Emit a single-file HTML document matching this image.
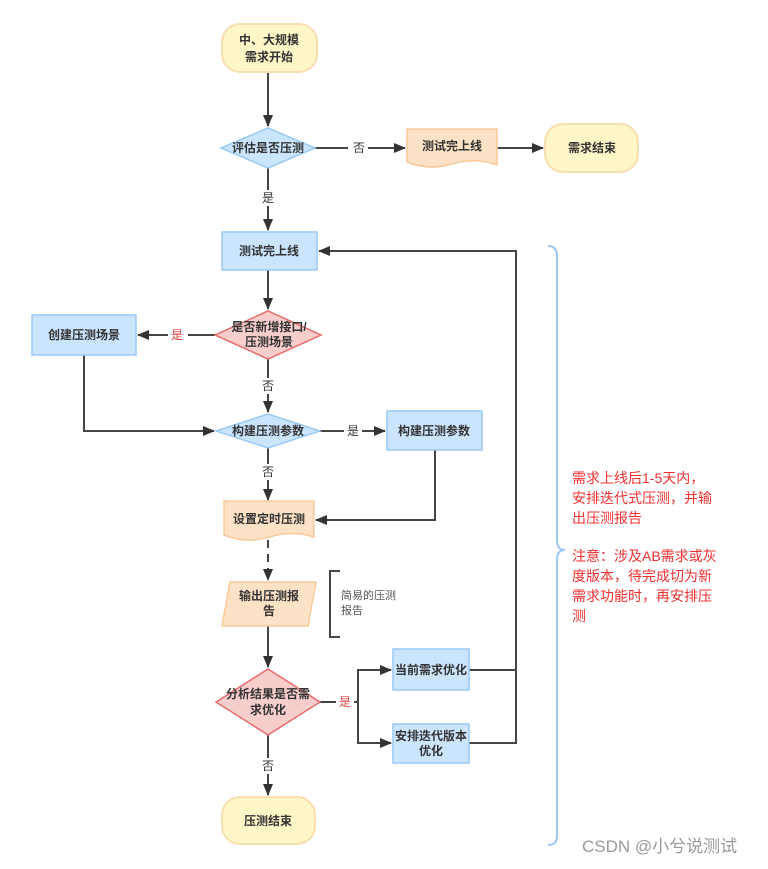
<!DOCTYPE html>
<html><head><meta charset="utf-8"><style>
body{margin:0;background:#fff;width:768px;height:864px;overflow:hidden}
text{font-family:"Liberation Sans","Noto Sans CJK SC",sans-serif}
.b{font-size:12px;font-weight:bold;fill:#333;text-anchor:middle}
.l{font-size:12px;fill:#333;text-anchor:middle}
</style></head><body>
<svg width="768" height="864" xmlns="http://www.w3.org/2000/svg">
<defs><marker id="a" markerWidth="12" markerHeight="10" refX="11" refY="5" orient="auto" markerUnits="userSpaceOnUse"><path d="M0,0L12,5L0,10Z" fill="#333"/></marker></defs>
<g stroke="#444" stroke-width="2" fill="none">
<path d="M268 72V126" marker-end="url(#a)"/>
<path d="M315 148H405" marker-end="url(#a)"/>
<path d="M497 148H543" marker-end="url(#a)"/>
<path d="M268 168V230" marker-end="url(#a)"/>
<path d="M268 270V309" marker-end="url(#a)"/>
<path d="M215 335H138" marker-end="url(#a)"/>
<path d="M268 359V412" marker-end="url(#a)"/>
<path d="M84 355V431H214" marker-end="url(#a)"/>
<path d="M320 431H385" marker-end="url(#a)"/>
<path d="M268 448V500" marker-end="url(#a)"/>
<path d="M435 450V520H316" marker-end="url(#a)"/>
<path d="M268 540V580" stroke-dasharray="8,6" marker-end="url(#a)"/>
<path d="M268 626V667" marker-end="url(#a)"/>
<path d="M320 702H358V670H391" marker-end="url(#a)"/>
<path d="M358 702V743H391" marker-end="url(#a)"/>
<path d="M268 735V795" marker-end="url(#a)"/>
<path d="M469 670H516V251H319" marker-end="url(#a)"/>
<path d="M469 743H516V670"/>
<path d="M340 571H330V637H340"/>
</g>
<path d="M548 246Q557 246 557 256V540Q557 550 565 550Q557 550 557 560V836Q557 845 548 845" stroke="#9cc8f5" stroke-width="2" fill="none"/>
<rect x="222" y="24" width="95" height="48" rx="18" fill="#fff6c7" stroke="#f9dfb0" stroke-width="2"/>
<text class="b" x="269" y="44">中、大规模</text><text class="b" x="269" y="61">需求开始</text>
<path d="M221 148L268 128L315 148L268 168Z" fill="#cce5ff" stroke="#99c9f5" stroke-width="1.5"/>
<text class="b" x="268" y="152">评估是否压测</text>
<rect x="348" y="140" width="20" height="16" fill="#fff"/><text class="l" x="359" y="152">否</text>
<path d="M407 129H497V165Q475 157 452 164T407 162Z" fill="#fde2c6" stroke="#f8c99a" stroke-width="1.5"/>
<text class="b" x="452" y="150">测试完上线</text>
<rect x="545" y="124" width="93" height="48" rx="18" fill="#fff6c7" stroke="#f9dfb0" stroke-width="2"/>
<text class="b" x="592" y="152">需求结束</text>
<rect x="259" y="190" width="18" height="16" fill="#fff"/><text class="l" x="268" y="202">是</text>
<rect x="222" y="232" width="95" height="38" fill="#cce5ff" stroke="#99c9f5" stroke-width="1.5"/>
<text class="b" x="269" y="255">测试完上线</text>
<path d="M215 335L268 311L321 335L268 359Z" fill="#f8cecc" stroke="#e86a6a" stroke-width="1.5"/>
<text class="b" x="269" y="331">是否新增接口/</text><text class="b" x="269" y="346">压测场景</text>
<rect x="168" y="327" width="20" height="16" fill="#fff"/><text x="177" y="339" font-size="12" fill="#e04040" text-anchor="middle">是</text>
<rect x="32" y="315" width="104" height="40" fill="#cce5ff" stroke="#99c9f5" stroke-width="1.5"/>
<text class="b" x="84" y="339">创建压测场景</text>
<rect x="259" y="378" width="18" height="16" fill="#fff"/><text class="l" x="268" y="390">否</text>
<path d="M216 431L268 414L320 431L268 448Z" fill="#cce5ff" stroke="#99c9f5" stroke-width="1.5"/>
<text class="b" x="268" y="435">构建压测参数</text>
<rect x="344" y="423" width="18" height="16" fill="#fff"/><text class="l" x="353" y="435">是</text>
<rect x="387" y="411" width="95" height="39" fill="#cce5ff" stroke="#99c9f5" stroke-width="1.5"/>
<text class="b" x="434" y="435">构建压测参数</text>
<rect x="259" y="464" width="18" height="16" fill="#fff"/><text class="l" x="268" y="476">否</text>
<path d="M224 501H314V537Q292 530 269 537T224 535Z" fill="#fde2c6" stroke="#f8c99a" stroke-width="1.5"/>
<text class="b" x="269" y="523">设置定时压测</text>
<path d="M230 582H316L308 626H222Z" fill="#fde2c6" stroke="#f8c99a" stroke-width="1.5"/>
<text class="b" x="269" y="600">输出压测报</text><text class="b" x="269" y="615">告</text>
<text x="341" y="599" font-size="11" fill="#555">简易的压测</text>
<text x="341" y="614" font-size="11" fill="#555">报告</text>
<path d="M216 702L268 669L320 702L268 735Z" fill="#f8cecc" stroke="#e86a6a" stroke-width="1.5"/>
<text class="b" x="268" y="698">分析结果是否需</text><text class="b" x="268" y="714">求优化</text>
<rect x="336" y="694" width="18" height="16" fill="#fff"/><text x="345" y="706" font-size="12" fill="#e04040" text-anchor="middle">是</text>
<rect x="393" y="649" width="76" height="41" fill="#cce5ff" stroke="#99c9f5" stroke-width="1.5"/>
<text class="b" x="431" y="674">当前需求优化</text>
<rect x="393" y="724" width="76" height="39" fill="#cce5ff" stroke="#99c9f5" stroke-width="1.5"/>
<text class="b" x="431" y="740">安排迭代版本</text><text class="b" x="431" y="755">优化</text>
<rect x="259" y="758" width="18" height="16" fill="#fff"/><text class="l" x="268" y="770">否</text>
<rect x="222" y="797" width="93" height="47" rx="18" fill="#fff6c7" stroke="#f9dfb0" stroke-width="2"/>
<text class="b" x="268" y="825">压测结束</text>
<g font-size="14" fill="#f03030">
<text x="572" y="483">需求上线后1-5天内，</text>
<text x="572" y="503">安排迭代式压测，并输</text>
<text x="572" y="523">出压测报告</text>
<text x="572" y="561">注意：涉及AB需求或灰</text>
<text x="572" y="581">度版本，待完成切为新</text>
<text x="572" y="601">需求功能时，再安排压</text>
<text x="572" y="621">测</text>
</g>
<text x="582" y="852" font-size="17" fill="#999">CSDN @小兮说测试</text>
</svg>
</body></html>
